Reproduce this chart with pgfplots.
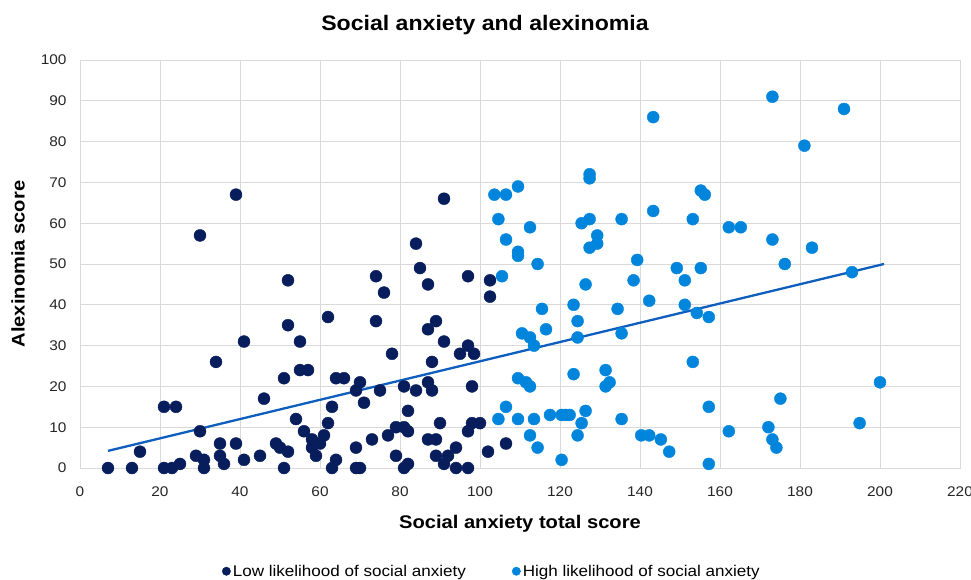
\documentclass[border=0pt]{standalone}
\usepackage{fontspec}
\setmainfont{Liberation Sans}[FakeStretch=1.1]
\usepackage{pgfplots}
\pgfplotsset{compat=1.18}

\definecolor{lowpt}{RGB}{8,30,92}
\definecolor{highpt}{RGB}{0,133,220}
\definecolor{trend}{RGB}{14,94,190}
\definecolor{gridgray}{RGB}{217,217,217}

\begin{document}
\begin{tikzpicture}
\begin{axis}[
  scale only axis,
  width=880pt, height=408pt,
  xmin=0, xmax=220, ymin=0, ymax=100,
  xtick={0,20,...,220}, ytick={0,10,...,100},
  major tick length=0pt,
  grid=major,
  grid style={draw=gridgray, line width=0.9pt},
  axis line style={draw=gridgray, line width=0.9pt},
  /pgf/number format/assume math mode=true,
  tick label style={font=\fontsize{14}{16}\selectfont, text=black!85},
  yticklabel style={xshift=-10pt},
  xticklabel style={yshift=-15pt},
  title={\bfseries Social anxiety and alexinomia},
  title style={font=\fontsize{21}{24}\selectfont, at={(0.4602,1)}, anchor=center, yshift=29pt},
  xlabel={\bfseries Social anxiety total score},
  xlabel style={font=\fontsize{18.3}{21}\selectfont, at={(0.5,-0.136)}, anchor=center},
  ylabel={\bfseries Alexinomia score},
  ylabel style={font=\fontsize{18.3}{21}\selectfont, at={(-0.0705,0.5)}, anchor=center, rotate=0},
  legend columns=2,
  legend cell align=left,
  legend style={draw=none, fill=none, at={(0.468,-0.253)}, anchor=center,
    font=\fontsize{15.5}{18}\selectfont,
    /tikz/every even column/.append style={column sep=44pt}},
]

% respondents with low likelihood of social anxiety
\addplot[only marks, color=lowpt, mark=*, mark size=6pt, mark options={fill=lowpt, draw=none},
  legend image code/.code={\fill[lowpt] (0.1cm,0cm) circle (4.2pt);}]
  table {
x y
7 0
13 0
15 4
21 15
21 0
23 0
24 15
25 1
29 3
30 57
30 9
31 2
31 0
34 26
35 6
35 3
36 1
39 67
39 6
41 31
41 2
45 3
46 17
49 6
50 5
51 22
51 0
52 46
52 35
52 4
54 12
55 31
55 24
57 24
56 9
58 7
58 5
59 3
60 6
61 8
62 37
62 11
63 15
63 0
64 22
64 2
66 22
69 5
69 0
70 0
70 21
69 19
71 16
73 7
74 47
76 43
74 36
75 19
77 8
78 28
79 10
81 10
79 3
81 20
82 14
82 9
81 0
82 1
84 19
84 55
85 49
87 45
87 34
89 36
91 31
88 26
87 21
88 19
87 7
89 7
90 11
89 3
91 1
92 3
94 5
94 0
95 28
97 30
98.5 28
98 20
97 9
98 11
100 11
97 0
97 47
91 66
102.5 46
102.5 42
102 4
106.5 6
};
\addlegendentry{Low likelihood of social anxiety}

% respondents with high likelihood of social anxiety
\addplot[only marks, color=highpt, mark=*, mark size=6pt, mark options={fill=highpt, draw=none},
  legend image code/.code={\fill[highpt] (0.1cm,0cm) circle (4.2pt);}]
  table {
x y
103.6 67
106.5 67
109.5 69
104.6 61
112.5 59
106.5 56
109.5 53
109.5 52
114.4 50
105.5 47
115.5 39
110.5 33
112.5 32
116.5 34
113.5 30
109.5 22
111.5 21
112.5 20
106.5 15
104.6 12
109.5 12
113.5 12
117.5 13
112.5 8
114.4 5
143.3 86
127.4 72
127.4 71
155.2 68
156.2 67
143.3 63
125.4 60
127.4 61
135.4 61
153.2 61
162.2 59
165.2 59
129.3 57
129.3 55
127.4 54
139.3 51
149.2 49
155.2 49
151.2 46
138.4 46
126.4 45
142.3 41
123.4 40
134.4 39
151.2 40
154.2 38
157.2 37
124.4 36
135.4 33
124.4 32
153.2 26
131.4 24
123.4 23
132.4 21
131.4 20
157.2 15
120.4 13
121.4 13
122.4 13
126.4 14
125.4 11
135.4 12
124.4 8
140.3 8
142.3 8
145.2 7
147.3 4
162.2 9
157.2 1
120.4 2
173.1 91
191 88
181.1 79
173.1 56
183 54
176.2 50
193 48
200 21
175.1 17
194.9 11
172.1 10
173.1 7
174.1 5
};
\addlegendentry{High likelihood of social anxiety}

% linear trend over all respondents
\addplot[forget plot, trend, line width=2.3pt, no marks] coordinates {(7,4.2) (201,50.0)};
\end{axis}
\pgfresetboundingbox
\path (current axis.south west) ++(-80pt,-111pt) rectangle ++(971pt,579pt);
\end{tikzpicture}
\end{document}
